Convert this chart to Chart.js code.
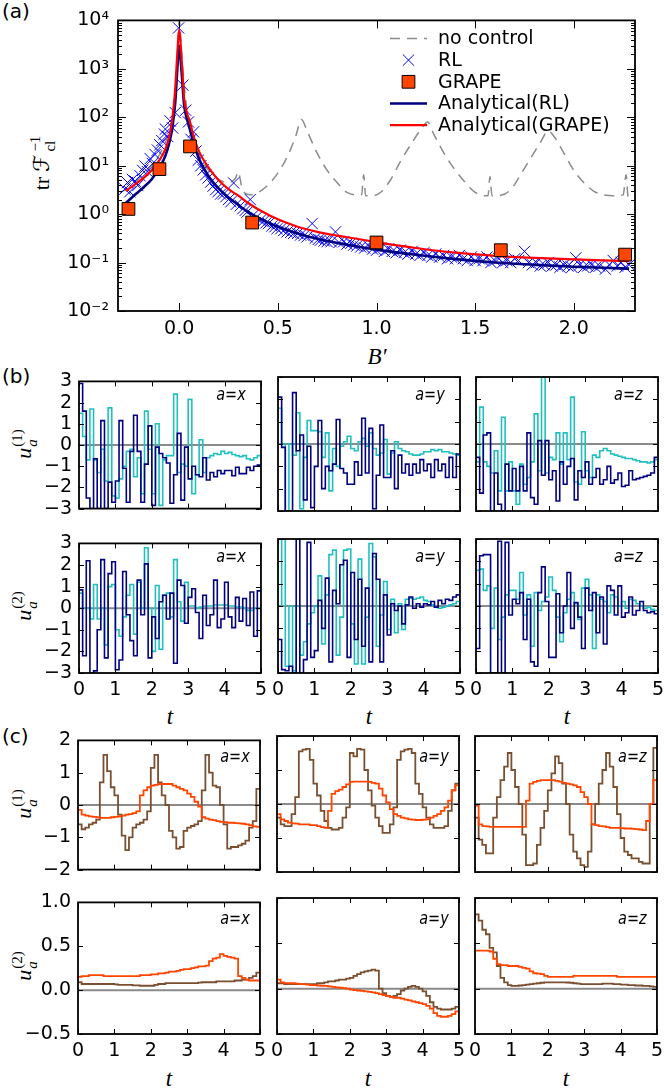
<!DOCTYPE html>
<html>
<head>
<meta charset="utf-8">
<script src="https://cdn.jsdelivr.net/npm/chart.js@4.4.1/dist/chart.umd.min.js"></script>
<style>
  body { margin: 0; background: #fff; }
  #fig { position: relative; width: 664px; height: 1089px; overflow: hidden; font-family: "DejaVu Sans", sans-serif; }
  #fig canvas { position: absolute; }
  .lbl { position: absolute; white-space: nowrap; color: #000; line-height: 1; }
  .ylab { position: absolute; white-space: nowrap; transform: translate(-50%, -50%) rotate(-90deg); font-family: "Liberation Serif", serif; font-size: 22px; line-height: 1; }
  .xlab { position: absolute; white-space: nowrap; transform: translate(-50%, -50%); font-family: "Liberation Serif", serif; font-style: italic; font-size: 23px; line-height: 1; }
  .it { font-style: italic; }
  .ss { display: inline-block; vertical-align: -0.42em; font-size: 0.68em; line-height: 1.0; margin-left: 1px; }
  .ss span { display: block; }
  .scr { display: inline-block; font-family: "DejaVu Sans", "DejaVu Serif", serif; margin: 0 2px 0 5px; }
  .tag { position: absolute; white-space: nowrap; font-size: 17px; line-height: 17px; font-style: italic; transform: scaleX(0.85); transform-origin: right top; }
</style>
</head>
<body>
<div id="fig">
  <div class="lbl" style="left:2px;top:1px;font-size:20px">(a)</div>
  <div class="lbl" style="left:2px;top:366px;font-size:20px">(b)</div>
  <div class="lbl" style="left:2px;top:726px;font-size:20px">(c)</div>

  <div class="ylab" style="left:43px;top:163px">tr<span class="scr">&#8497;</span><span class="ss"><span>&minus;1</span><span>cl</span></span></div>
  <div class="xlab" style="left:377px;top:356px">B&prime;</div>

  <div class="ylab" style="left:25px;top:444px"><span class="it">u</span><span class="ss"><span>(1)</span><span class="it">a</span></span></div>
  <div class="ylab" style="left:25px;top:606px"><span class="it">u</span><span class="ss"><span>(2)</span><span class="it">a</span></span></div>
  <div class="ylab" style="left:25px;top:804px"><span class="it">u</span><span class="ss"><span>(1)</span><span class="it">a</span></span></div>
  <div class="ylab" style="left:25px;top:966px"><span class="it">u</span><span class="ss"><span>(2)</span><span class="it">a</span></span></div>

  <div class="xlab" style="left:170px;top:716px">t</div>
  <div class="xlab" style="left:369px;top:716px">t</div>
  <div class="xlab" style="left:567px;top:716px">t</div>
  <div class="xlab" style="left:169px;top:1078px">t</div>
  <div class="xlab" style="left:368px;top:1078px">t</div>
  <div class="xlab" style="left:566px;top:1078px">t</div>
</div>
<script>
// ---------- panel (a): trF^-1 against B' ----------
const NOCTRL_B = [-0.3, -0.25, -0.2, -0.15, -0.1, -0.07, -0.05, -0.03, -0.015, 0, 0.015, 0.03, 0.045, 0.06, 0.08, 0.1,
  0.15, 0.2, 0.25, 0.285, 0.3, 0.315, 0.33, 0.36, 0.4, 0.45, 0.5, 0.55, 0.59, 0.62, 0.65, 0.7, 0.75, 0.8, 0.85, 0.9,
  0.925, 0.935, 0.945, 0.98, 1.02, 1.07, 1.12, 1.18, 1.23, 1.26, 1.29, 1.35, 1.4, 1.45, 1.5, 1.55, 1.565, 1.575, 1.585,
  1.63, 1.68, 1.73, 1.78, 1.83, 1.87, 1.9, 1.95, 2.0, 2.05, 2.1, 2.15, 2.2, 2.25, 2.265, 2.275, 2.31];
const NOCTRL_F = [2.8, 3.6, 5.5, 9, 17, 30, 50, 120, 500, 10000, 1500, 300, 100, 50, 25, 16,
  8, 5.2, 4.5, 5.5, 7.5, 4, 2.8, 2.5, 2.8, 4, 7, 16, 40, 90, 50, 18, 8, 4.5, 2.8, 2.5,
  2.5, 6.5, 2.4, 2.4, 2.8, 5, 12, 30, 60, 80, 45, 16, 8, 4.5, 2.8, 2.4, 2.4, 6, 2.4,
  2.45, 3.2, 6.5, 14, 30, 52, 40, 18, 8, 4.5, 3.0, 2.5, 2.4, 2.5, 6.5, 2.3, 2.4];

const RL_B = [-0.275, -0.262, -0.25, -0.237, -0.223, -0.21, -0.198, -0.185, -0.173, -0.16, -0.147, -0.135, -0.122, -0.11,
  -0.098, -0.088, -0.075, -0.07, -0.058, -0.046, -0.033, -0.02, -0.003, 0.019, 0.033, 0.047, 0.06, 0.073, 0.085, 0.097,
  0.11, 0.122, 0.135, 0.147, 0.16, 0.172, 0.185, 0.197, 0.21, 0.225, 0.237, 0.25, 0.262, 0.276, 0.29, 0.31, 0.323, 0.335,
  0.344, 0.36, 0.375, 0.39, 0.41, 0.425, 0.44, 0.453, 0.47, 0.485, 0.496, 0.515, 0.53, 0.547, 0.565, 0.58, 0.6, 0.615,
  0.633, 0.648, 0.674, 0.69, 0.705, 0.716, 0.735, 0.75, 0.77, 0.792, 0.81, 0.834, 0.85, 0.87, 0.885, 0.9, 0.92, 0.94,
  0.96, 0.98, 1.0, 1.02, 1.04, 1.06, 1.08, 1.1, 1.12, 1.14, 1.16, 1.18, 1.2, 1.22, 1.24, 1.26, 1.28, 1.3, 1.32, 1.34,
  1.36, 1.38, 1.4, 1.42, 1.44, 1.46, 1.48, 1.5, 1.52, 1.54, 1.56, 1.58, 1.6, 1.62, 1.64, 1.66, 1.68, 1.7, 1.72, 1.75,
  1.77, 1.79, 1.81, 1.83, 1.85, 1.87, 1.89, 1.91, 1.93, 1.95, 1.97, 1.99, 2.01, 2.03, 2.05, 2.07, 2.09, 2.11, 2.13,
  2.16, 2.18, 2.2, 2.22, 2.24, 2.26, 2.28];
const RL_F = [3.3, 4.5, 2.9, 5.2, 4.8, 3.9, 6.2, 8.0, 9.8, 7.5, 14, 11, 17, 21,
  27, 33, 45, 57, 40, 84, 60, 125, 7000, 460, 140, 80, 35, 50, 20, 13,
  10, 8.2, 6.5, 5.6, 4.6, 3.8, 3.2, 2.9, 2.6, 2.6, 2.3, 2.0, 1.8, 4.4, 1.6, 1.5, 1.3, 1.2,
  1.1, 2.0, 0.95, 0.85, 0.74, 0.7, 0.66, 0.64, 0.57, 0.55, 0.5, 0.5, 0.46, 0.43, 0.42, 0.4, 0.4, 0.37,
  0.36, 0.34, 0.64, 0.32, 0.3, 0.29, 0.28, 0.27, 0.27, 0.43, 0.26, 0.27, 0.24, 0.25, 0.23, 0.22, 0.21, 0.2,
  0.22, 0.19, 0.18, 0.2, 0.17, 0.19, 0.17, 0.16, 0.18, 0.16, 0.15, 0.17, 0.15, 0.14, 0.16, 0.14, 0.13, 0.15, 0.13, 0.14,
  0.12, 0.13, 0.12, 0.14, 0.12, 0.11, 0.13, 0.11, 0.12, 0.11, 0.13, 0.1, 0.11, 0.12, 0.1, 0.11, 0.1, 0.12, 0.11, 0.17,
  0.1, 0.09, 0.1, 0.085, 0.09, 0.1, 0.085, 0.09, 0.08, 0.09, 0.085, 0.08, 0.125, 0.09, 0.08, 0.085, 0.09, 0.08, 0.085,
  0.073, 0.09, 0.11, 0.085, 0.1, 0.08, 0.09];

const GRAPE_B = [-0.257, -0.1, 0.055, 0.37, 1.0, 1.63, 2.26];
const GRAPE_F = [1.28, 8.5, 25, 0.67, 0.26, 0.18, 0.146];

const AN_B = [-0.27, -0.22, -0.18, -0.14, -0.1, -0.07, -0.05, -0.035, -0.02, -0.01, 0, 0.012, 0.025, 0.04, 0.055, 0.07,
  0.1, 0.15, 0.2, 0.25, 0.3, 0.35, 0.4, 0.5, 0.6, 0.7, 0.8, 0.9, 1.0, 1.2, 1.4, 1.6, 1.8, 2.0, 2.15, 2.28];
const ANRL_F = [1.7, 2.6, 3.6, 5.2, 9, 16, 30, 60, 200, 900, 3000, 900, 180, 90, 55, 32,
  14, 6, 3.4, 2.2, 1.55, 1.1, 0.85, 0.55, 0.4, 0.31, 0.255, 0.215, 0.185, 0.145, 0.118, 0.1, 0.09, 0.082, 0.078, 0.075];
const ANGR_F = [3.0, 4.2, 5.6, 8, 13, 22, 40, 90, 400, 1900, 6500, 1700, 250, 120, 80, 45,
  20, 9, 5, 3.3, 2.4, 1.7, 1.26, 0.78, 0.55, 0.43, 0.36, 0.31, 0.265, 0.2, 0.16, 0.138, 0.125, 0.116, 0.111, 0.107];

const A_XTICKS = [0, 0.5, 1.0, 1.5, 2.0];
const A_YTICKS = [0.01, 0.1, 1, 10, 100, 1000, 10000];
const A_YMINOR = [0.02, 0.03, 0.04, 0.05, 0.06, 0.07, 0.08, 0.09, 0.2, 0.3, 0.4, 0.5, 0.6, 0.7, 0.8, 0.9,
  2, 3, 4, 5, 6, 7, 8, 9, 20, 30, 40, 50, 60, 70, 80, 90, 200, 300, 400, 500, 600, 700, 800, 900,
  2000, 3000, 4000, 5000, 6000, 7000, 8000, 9000];

// ---------- panels (b), (c): one control value per time step ----------
const T_GRID = [0, 0.1, 0.2, 0.3, 0.4, 0.5, 0.6, 0.7, 0.8, 0.9, 1.0, 1.1, 1.2, 1.3, 1.4, 1.5, 1.6, 1.7, 1.8, 1.9,
  2.0, 2.1, 2.2, 2.3, 2.4, 2.5, 2.6, 2.7, 2.8, 2.9, 3.0, 3.1, 3.2, 3.3, 3.4, 3.5, 3.6, 3.7, 3.8, 3.9,
  4.0, 4.1, 4.2, 4.3, 4.4, 4.5, 4.6, 4.7, 4.8, 4.9, 5.0];

const B1X_NAVY = [2.9, 1.6, -2.5, -3, -0.65, -3, 1.15, -3, -1.75, -2.7, -1.7, 1.15, -1.1, -2.7, -0.3, 1.4, -0.3, -2.7, -0.9, 0.9,
  -2.85, -0.1, -0.4, -0.6, -0.85, -2.75, -1.4, 0.55, -2.6, -0.1, -1.6, -1.0, -1.4, -1.5, -0.6, -1.65, -1.3, -1.5, -1.2, -1.35,
  -1.2, -1.2, -1.45, -1.05, -1.35, -1.35, -1.05, -1.2, -1.0, -0.95];
const B1X_CYAN = [1.5, 0.4, -0.7, 1.7, -0.7, -1.3, -0.2, -1.7, 1.75, -2.4, -2.5, -1.6, -1.0, -0.3, -0.2, -1.5, -0.6, -2.3, 1.6, -0.2,
  -2.3, 1.0, -2.85, -0.7, -0.5, -0.5, 2.4, -1.3, -0.9, -1.0, 2.15, -2.3, -1.4, 0.25, -1.3, -0.6, -0.5, -0.4, -0.45, -0.3,
  -0.4, -0.35, -0.45, -0.5, -0.55, -0.5, -0.65, -0.7, -0.6, -0.5];
const B1Y_NAVY = [2.1, -0.15, -3, -3, 2.3, -0.3, 0.4, -2.5, -0.1, -2.85, -1.0, 1.05, -2.0, -1.0, -1.2, -0.9, 1.1, -1.1, -1.3, -1.8,
  -1.8, -0.8, -1.4, 1.15, -1.3, 0.7, -2.9, -1.4, 0.85, -1.5, -1.5, -0.3, -2.0, -0.5, -1.3, -0.9, -1.4, -0.9, -1.3, -0.7,
  -1.2, -0.9, -1.5, -0.7, -1.2, -0.9, -1.5, -0.6, -1.5, -0.45];
const B1Y_CYAN = [1.6, 0.0, -3, 0.0, -0.5, 1.4, -2.9, -0.6, 1.05, 0.6, 0.6, 0.55, -0.6, 0.5, -2.1, -0.2, -1.0, -0.1, 0.1, 0.35,
  -0.2, -0.3, 0.1, 0.25, -0.1, 0.5, -0.2, -0.5, -0.4, 0.2, -1.35, -0.4, 0.1, -0.2, -0.3, -0.35, -0.45, -0.5, -0.5, -0.45,
  -0.35, -0.35, -0.25, -0.3, -0.25, -0.35, -0.35, -0.4, -0.45, -0.5];
const B1Z_NAVY = [-0.6, -2.2, 0.4, 0.5, -3, -1.3, -2.7, -3, -0.9, -2.1, -1.1, -2.1, -1.0, -2.1, 0.5, -2.4, -2.7, 0.15, -1.4, 0.15,
  -1.6, -1.2, -2.55, -0.8, -1.8, -1.0, -0.65, -2.5, -1.2, -1.5, -0.8, -1.8, -1.5, -1.1, -1.8, -1.6, -1.0, -1.75, -1.6, -1.3,
  -1.9, -1.85, -1.2, -1.6, -1.55, -1.5, -1.45, -1.4, -1.3, -0.6];
const B1Z_CYAN = [-0.8, 1.65, -0.8, -1.0, -1.3, -0.3, -2.1, 1.2, -2.1, -0.8, -2.1, -2.7, -0.9, -1.8, -1.5, -0.8, 1.35, -1.2, 3.0, -1.3,
  -0.6, -0.7, 0.5, -0.9, 0.5, -0.7, 2.1, -1.7, -1.8, 0.55, -1.2, -1.5, -0.5, -0.6, -0.3, -0.2, -0.3, -0.45, -0.5, -0.55,
  -0.6, -0.65, -0.65, -0.7, -0.75, -0.8, -0.8, -0.85, -0.8, -0.7];

const B2X_NAVY = [0.85, -2.2, 2.2, -3, -2.9, -1.0, 2.25, -2.3, 1.6, 2.15, -2.85, -2.4, 1.7, -0.3, -1.5, -2.2, 1.3, -0.3, 2.05, -2.3,
  -0.4, -1.4, 0.3, 0.6, -0.5, 0.7, -2.55, 1.3, 1.05, -0.7, 0.5, 0.9, -0.2, -1.4, 0.6, -0.8, -0.3, 1.3, -0.9, -0.5,
  1.2, -0.4, -0.9, 0.5, -0.6, 0.45, -0.8, 0.75, -1.3, 0.8];
const B2X_CYAN = [0.7, 0.0, 0.0, -0.5, 1.1, -0.5, 0.0, -1.7, 1.0, 1.1, -1.0, -1.3, -0.4, 0.6, 1.1, -1.2, 1.2, 0.0, 2.8, 0.0,
  -2.0, 1.05, -1.9, 0.6, 0.7, -0.4, 2.25, 0.3, -0.6, 1.2, 0.1, 0.1, 0.0, 0.05, 0.1, 0.1, 0.1, 0.15, 0.15, 0.15,
  0.15, 0.1, 0.1, 0.05, 0.05, 0.0, -0.1, -0.1, 0.0, 0.0];
const B2Y_NAVY = [-1.5, -2.85, -2.9, -2.7, -3, 3, -3, -2.4, 2.85, -2.3, -2.0, 0.25, -1.0, 1.25, -2.5, 0.7, 0.1, 1.85, 2.05, -2.3,
  1.5, -1.5, 1.2, -1.8, 0.8, -2.5, 2.35, 1.2, -2.5, 0.5, -1.3, 0.1, -0.2, 0.0, -0.8, 0.05, 0.4, -0.1, 0.1, -0.05,
  0.1, 0.05, 0.2, -0.05, 0.25, 0.1, 0.3, 0.25, 0.4, 0.5];
const B2Y_CYAN = [0.0, 3, -2.7, 0, -2.9, 0, -2.2, -1.6, -0.8, -0.3, 0.0, 1.35, -1.7, 0.5, 2.3, 2.5, -2.2, -0.5, 2.5, 2.55,
  -0.8, -2.6, 2.1, -2.6, -0.5, 2.8, 2.2, -1.8, -0.4, 1.1, -1.05, 0.3, -1.2, 0.1, -1.05, 0.3, 0.35, 0.3, 0.35, 0.4,
  0.25, 0.2, 0.05, -0.05, -0.1, -0.05, 0.0, 0.05, 0.1, 0.2];
const B2Z_NAVY = [-1.9, 2.25, 2.3, 2.3, -3, -3, 2.9, -3, 2.85, -0.4, 0.3, 0.1, 0.6, -1.5, 0.3, -2.5, -2.7, 0.6, 1.75, 0.2,
  -2.3, -2.3, 0.55, -1.2, 0.0, 1.5, -1.0, 0.15, -0.5, -1.9, 0.8, -0.2, 0.6, -1.2, 0.4, -1.7, 0.9, 0.7, -0.4, 0.9,
  -0.5, -0.3, 0.4, -0.4, -0.2, 0.2, -0.2, -0.3, -0.25, -0.35];
const B2Z_CYAN = [1.6, 1.65, 0.7, 0.9, -1.0, 0.8, -1.5, -0.5, 0.5, 0.7, 0.7, 0.3, 1.5, -0.4, 0.5, -1.8, 0.6, -0.2, 0.2, 0.4,
  1.3, 0.7, -0.5, -1.6, -0.3, 0.3, 0.6, 0.1, -0.6, 0.8, 1.2, 0.5, -1.9, 0.5, 0.3, 0.2, -0.3, 0.5, 0.4, 0.0,
  0.2, -0.1, 0.3, 0.25, 0.1, 0.0, -0.1, -0.05, -0.15, -0.2];

const C1X_BROWN = [-0.6, -0.75, -0.7, -0.6, -0.55, -0.45, 0.7, 1.55, 1.05, 0.55, 0.3, -0.3, -0.95, -1.4, -1.0, -0.7, -0.6, -0.55, -0.45, -0.2,
  1.15, 1.55, 0.7, 0.3, 0.0, -0.8, -1.0, -1.35, -1.3, -0.8, -0.7, -0.65, -0.6, -0.5, 0.45, 1.55, 1.0, 0.6, 0.55, 0.0,
  -0.6, -1.35, -1.3, -1.3, -1.25, -1.2, -1.1, -0.7, -0.5, 0.5];
const C1X_ORANGE = [-0.15, -0.3, -0.33, -0.35, -0.37, -0.38, -0.4, -0.4, -0.4, -0.38, -0.37, -0.35, -0.33, -0.3, -0.28, -0.25, -0.2, 0.3, 0.45, 0.55,
  0.6, 0.62, 0.65, 0.65, 0.65, 0.65, 0.6, 0.55, 0.5, 0.45, 0.35, 0.25, 0.1, -0.05, -0.38, -0.42, -0.45, -0.47, -0.5, -0.52,
  -0.53, -0.55, -0.55, -0.56, -0.57, -0.58, -0.6, -0.62, -0.66, -0.68];
const C1Y_BROWN = [-0.4, -0.6, -0.65, -0.65, -0.3, 0.2, 1.55, 1.6, 1.62, 1.3, 0.6, 0.25, -0.2, -0.5, -0.7, -0.75, -0.75, -0.7, -0.4, -0.1,
  1.5, 1.4, 1.62, 1.6, 1.0, 0.4, -0.05, -0.4, -0.65, -0.85, -0.85, -0.6, -0.1, 1.3, 1.55, 1.6, 1.62, 1.5, 0.6, 0.3,
  -0.1, -0.4, -0.6, -0.7, -0.7, -0.7, -0.65, -0.2, 0.4, 0.6];
const C1Y_ORANGE = [-0.3, -0.45, -0.5, -0.55, -0.57, -0.58, -0.6, -0.6, -0.6, -0.62, -0.62, -0.65, -0.68, -0.7, -0.2, 0.3, 0.38, 0.42, 0.5, 0.58,
  0.65, 0.66, 0.66, 0.66, 0.66, 0.65, 0.62, 0.6, 0.45, 0.25, 0.05, -0.15, -0.3, -0.35, -0.4, -0.42, -0.45, -0.46, -0.47, -0.47,
  -0.46, -0.45, -0.4, -0.35, -0.3, -0.2, -0.1, 0.1, 0.4, 0.55];
const C1Z_BROWN = [-0.4, -1.05, -1.2, -1.45, -1.45, -0.4, 0.2, 0.7, 1.1, 1.5, 1.0, 0.5, 0.0, -0.9, -1.8, -1.8, -1.75, -1.2, -0.7, -0.2,
  0.4, 0.9, 1.4, 1.2, 0.6, 0.0, -0.9, -1.4, -1.6, -1.8, -1.85, -1.4, -0.6, 0.0, 0.6, 1.0, 1.5, 1.1, 0.5, -0.3,
  -1.0, -1.4, -1.5, -1.6, -1.6, -1.7, -1.75, -1.75, 0.0, 1.65];
const C1Z_ORANGE = [-0.05, -0.6, -0.65, -0.66, -0.67, -0.67, -0.67, -0.67, -0.67, -0.67, -0.67, -0.67, -0.67, -0.67, 0.1, 0.6, 0.65, 0.68, 0.7, 0.7,
  0.7, 0.7, 0.68, 0.66, 0.62, 0.6, 0.58, 0.55, 0.5, 0.35, 0.2, 0.0, -0.6, -0.62, -0.65, -0.66, -0.68, -0.7, -0.7, -0.7,
  -0.71, -0.72, -0.72, -0.73, -0.74, -0.75, -0.77, -0.5, 0.0, 0.7];

const C2X_BROWN = [0.09, 0.07, 0.07, 0.07, 0.07, 0.07, 0.07, 0.07, 0.07, 0.07, 0.065, 0.06, 0.06, 0.06, 0.06, 0.055, 0.055, 0.05, 0.05, 0.05,
  0.05, 0.06, 0.07, 0.07, 0.08, 0.08, 0.08, 0.08, 0.08, 0.08, 0.08, 0.08, 0.08, 0.085, 0.09, 0.09, 0.09, 0.09, 0.1, 0.1,
  0.1, 0.1, 0.1, 0.11, 0.11, 0.12, 0.12, 0.14, 0.16, 0.2];
const C2X_ORANGE = [0.15, 0.16, 0.16, 0.17, 0.17, 0.17, 0.17, 0.16, 0.16, 0.16, 0.16, 0.16, 0.16, 0.16, 0.16, 0.16, 0.16, 0.17, 0.17, 0.17,
  0.18, 0.18, 0.19, 0.19, 0.2, 0.21, 0.21, 0.22, 0.23, 0.24, 0.24, 0.25, 0.26, 0.27, 0.27, 0.28, 0.33, 0.36, 0.37, 0.41,
  0.39, 0.38, 0.37, 0.36, 0.16, 0.14, 0.12, 0.11, 0.11, 0.11];
const C2Y_BROWN = [0.06, 0.06, 0.05, 0.05, 0.05, 0.05, 0.05, 0.05, 0.05, 0.05, 0.05, 0.06, 0.06, 0.07, 0.08, 0.08, 0.09, 0.1, 0.1, 0.11,
  0.12, 0.14, 0.16, 0.18, 0.19, 0.2, 0.21, 0.2, 0.0, -0.05, -0.08, -0.09, -0.08, -0.06, -0.02, 0.0, 0.02, 0.03, 0.02, 0.0,
  -0.03, -0.08, -0.15, -0.2, -0.22, -0.23, -0.23, -0.23, -0.22, -0.2];
const C2Y_ORANGE = [0.1, 0.07, 0.06, 0.06, 0.06, 0.055, 0.05, 0.05, 0.045, 0.04, 0.04, 0.035, 0.03, 0.03, 0.025, 0.02, 0.015, 0.01, 0.005, 0.0,
  -0.01, -0.015, -0.02, -0.025, -0.03, -0.035, -0.04, -0.05, -0.06, -0.07, -0.08, -0.09, -0.1, -0.1, -0.11, -0.12, -0.13, -0.14, -0.15, -0.16,
  -0.17, -0.19, -0.22, -0.27, -0.3, -0.31, -0.31, -0.3, -0.28, -0.25];
const C2Z_BROWN = [0.82, 0.75, 0.65, 0.6, 0.45, 0.4, 0.25, 0.12, 0.07, 0.04, 0.03, 0.03, 0.035, 0.04, 0.045, 0.05, 0.055, 0.06, 0.065, 0.07,
  0.07, 0.07, 0.07, 0.07, 0.07, 0.068, 0.065, 0.06, 0.055, 0.05, 0.05, 0.05, 0.05, 0.05, 0.05, 0.055, 0.055, 0.055, 0.05, 0.05,
  0.045, 0.045, 0.04, 0.04, 0.035, 0.035, 0.03, 0.03, 0.025, 0.02];
const C2Z_ORANGE = [0.42, 0.42, 0.42, 0.42, 0.41, 0.33, 0.27, 0.26, 0.26, 0.25, 0.25, 0.25, 0.24, 0.23, 0.22, 0.19, 0.17, 0.165, 0.16, 0.14,
  0.13, 0.13, 0.13, 0.13, 0.13, 0.13, 0.13, 0.14, 0.14, 0.14, 0.14, 0.14, 0.14, 0.14, 0.14, 0.14, 0.14, 0.14, 0.14, 0.13,
  0.13, 0.13, 0.13, 0.13, 0.13, 0.13, 0.13, 0.13, 0.13, 0.13];

const T_TICKS = [0, 1, 2, 3, 4, 5];
const B_YTICKS = [-3, -2, -1, 0, 1, 2, 3];
const C1_YTICKS = [-2, -1, 0, 1, 2];
const C2_YTICKS = [-0.5, 0.0, 0.5, 1.0];
const ZERO_T = [0, 5];
const ZERO_U = [0, 0];
const AXIS_TAGS = ['a=x', 'a=y', 'a=z'];

const NAVY = '#000080';
const CYAN = '#20c0c0';
const BROWN = '#7a4f30';
const ORANGE = '#ff4500';

Chart.defaults.font.family = '"DejaVu Sans", sans-serif';
Chart.defaults.font.size = 19;
Chart.defaults.color = '#000';

const fig = document.getElementById('fig');

function pts(xs, ys) {
  return xs.map((x, i) => ({x: x, y: ys[i]}));
}
function steps(vals) {
  return T_GRID.map((t, i) => ({x: t, y: vals[Math.min(i, vals.length - 1)]}));
}
function minus(s) {
  return String(s).replace('-', '\u2212');
}
const SUP = {'-': '\u207b', '0': '\u2070', '1': '\u00b9', '2': '\u00b2', '3': '\u00b3', '4': '\u2074'};
function pow10(v) {
  const e = String(Math.round(Math.log10(v)));
  return '10' + e.split('').map(c => SUP[c]).join('');
}

// frame and inward tick marks, like the original axes
const framePlugin = {
  id: 'frame',
  afterDatasetsDraw(chart, args, o) {
    const ctx = chart.ctx, a = chart.chartArea;
    const xs = chart.scales.x, ys = chart.scales.y;
    ctx.save();
    ctx.strokeStyle = '#000';
    ctx.lineWidth = 1;
    ctx.beginPath();
    o.xTicks.forEach(v => {
      const p = Math.round(xs.getPixelForValue(v)) + 0.5;
      ctx.moveTo(p, a.bottom); ctx.lineTo(p, a.bottom - o.len);
      ctx.moveTo(p, a.top); ctx.lineTo(p, a.top + o.len);
    });
    o.yTicks.forEach(v => {
      const p = Math.round(ys.getPixelForValue(v)) + 0.5;
      ctx.moveTo(a.left, p); ctx.lineTo(a.left + o.len, p);
      ctx.moveTo(a.right, p); ctx.lineTo(a.right - o.len, p);
    });
    (o.yMinor || []).forEach(v => {
      const p = Math.round(ys.getPixelForValue(v)) + 0.5;
      ctx.moveTo(a.left, p); ctx.lineTo(a.left + o.len / 2, p);
      ctx.moveTo(a.right, p); ctx.lineTo(a.right - o.len / 2, p);
    });
    ctx.stroke();
    ctx.lineWidth = o.width;
    ctx.strokeRect(a.left, a.top, a.width, a.height);
    ctx.restore();
  }
};

// legend inside panel (a), top right
const innerLegend = {
  id: 'innerLegend',
  afterDraw(chart) {
    const ctx = chart.ctx, a = chart.chartArea;
    const x0 = a.right - 245, x1 = a.right - 208, tx = a.right - 197, cx = (x0 + x1) / 2;
    ctx.save();
    ctx.font = '19px "DejaVu Sans"';
    ctx.textBaseline = 'middle';
    chart.data.datasets.forEach((ds, row) => {
      const y = a.top + 18 + row * 21.7;
      if (ds.showLine === false) {
        ctx.lineWidth = 1;
        ctx.strokeStyle = ds.pointBorderColor;
        ctx.fillStyle = ds.pointBackgroundColor || 'transparent';
        const s = ds.pointRadius * Math.SQRT1_2;
        ctx.beginPath();
        if (ds.pointStyle === 'rect') {
          ctx.rect(cx - s, y - s, 2 * s, 2 * s);
          ctx.fill();
        } else {
          ctx.moveTo(cx - s, y - s); ctx.lineTo(cx + s, y + s);
          ctx.moveTo(cx + s, y - s); ctx.lineTo(cx - s, y + s);
        }
        ctx.stroke();
      } else {
        ctx.strokeStyle = ds.borderColor;
        ctx.lineWidth = ds.borderWidth;
        ctx.setLineDash(ds.borderDash || []);
        ctx.beginPath();
        ctx.moveTo(x0, y); ctx.lineTo(x1, y);
        ctx.stroke();
        ctx.setLineDash([]);
      }
      ctx.fillStyle = '#000';
      ctx.fillText(ds.label, tx, y + 1);
    });
    ctx.restore();
  }
};

function makeChart(box, pad, datasets, ax) {
  const w = box.w + pad.l + pad.r, h = box.h + pad.t + pad.b;
  const cv = document.createElement('canvas');
  cv.width = w; cv.height = h;
  cv.style.left = (box.l - pad.l) + 'px';
  cv.style.top = (box.t - pad.t) + 'px';
  cv.style.width = w + 'px';
  cv.style.height = h + 'px';
  fig.appendChild(cv);
  return new Chart(cv, {
    type: 'line',
    data: {datasets: datasets},
    options: {
      responsive: false,
      animation: false,
      events: [],
      layout: {padding: {top: pad.t, right: pad.r, left: 0, bottom: 0}},
      elements: {point: {radius: 0}},
      scales: {
        x: {
          type: 'linear', min: ax.xmin, max: ax.xmax,
          grid: {display: false, drawTicks: false}, border: {display: false},
          afterBuildTicks: s => { s.ticks = ax.xticks.map(v => ({value: v})); },
          afterFit: s => { s.height = pad.b; },
          ticks: {display: ax.xlab, padding: ax.xpad || 6, autoSkip: false, maxRotation: 0, callback: ax.xfmt}
        },
        y: {
          type: ax.ylog ? 'logarithmic' : 'linear', min: ax.ymin, max: ax.ymax,
          grid: {display: false, drawTicks: false}, border: {display: false},
          afterBuildTicks: s => { s.ticks = ax.yticks.map(v => ({value: v})); },
          afterFit: s => { s.width = pad.l; },
          ticks: {display: ax.ylab, padding: ax.ypad || 7, autoSkip: false, callback: ax.yfmt}
        }
      },
      plugins: {
        legend: {display: false},
        tooltip: {enabled: false},
        frame: {xTicks: ax.xticks, yTicks: ax.yticks, yMinor: ax.yminor, len: ax.tick || 5, width: 1.8}
      }
    },
    plugins: ax.legend ? [framePlugin, innerLegend] : [framePlugin]
  });
}

// ---------- panel (a) ----------
makeChart({l: 118, t: 14, w: 517, h: 297}, {l: 118, r: 24, t: 14, b: 30}, [
  {label: 'no control', data: pts(NOCTRL_B, NOCTRL_F), borderColor: '#8c8c8c', borderWidth: 1.5, borderDash: [10, 7],
   cubicInterpolationMode: 'monotone', order: 5},
  {label: 'RL', data: pts(RL_B, RL_F), showLine: false, pointStyle: 'crossRot', pointRadius: 8,
   pointBorderColor: '#0000ff', pointBorderWidth: 1, borderColor: '#0000ff', order: 4},
  {label: 'GRAPE', data: pts(GRAPE_B, GRAPE_F), showLine: false, pointStyle: 'rect', pointRadius: 9,
   pointBackgroundColor: ORANGE, pointBorderColor: '#000', pointBorderWidth: 1, order: 1},
  {label: 'Analytical(RL)', data: pts(AN_B, ANRL_F), borderColor: NAVY, borderWidth: 2.6,
   cubicInterpolationMode: 'monotone', order: 3},
  {label: 'Analytical(GRAPE)', data: pts(AN_B, ANGR_F), borderColor: '#ff0000', borderWidth: 2.2,
   cubicInterpolationMode: 'monotone', order: 2}
], {
  xmin: -0.31, xmax: 2.31, ymin: 0.01, ymax: 10000, ylog: true,
  xticks: A_XTICKS, yticks: A_YTICKS, yminor: A_YMINOR, tick: 8,
  xlab: true, ylab: true, xpad: 7, ypad: 9, legend: true,
  xfmt: v => v.toFixed(1), yfmt: v => pow10(v)
});

// ---------- panels (b) and (c) ----------
const ROWS = [
  {t: 377, h: 134, cols: [79, 278, 476], yticks: B_YTICKS, ymin: -3, ymax: 3, xlab: false, yfmt: v => minus(v),
   colors: [CYAN, NAVY], width: 1.6, tagTop: 9, tagIn: 15,
   series: [[B1X_CYAN, B1X_NAVY], [B1Y_CYAN, B1Y_NAVY], [B1Z_CYAN, B1Z_NAVY]]},
  {t: 539, h: 134, cols: [79, 278, 476], yticks: B_YTICKS, ymin: -3, ymax: 3, xlab: true, yfmt: v => minus(v),
   colors: [CYAN, NAVY], width: 1.6, tagTop: 9, tagIn: 15,
   series: [[B2X_CYAN, B2X_NAVY], [B2Y_CYAN, B2Y_NAVY], [B2Z_CYAN, B2Z_NAVY]]},
  {t: 736, h: 136, cols: [78, 277, 475], yticks: C1_YTICKS, ymin: -2, ymax: 2, xlab: false, yfmt: v => minus(v),
   colors: [BROWN, ORANGE], width: 1.8, tagTop: 12, tagIn: 10,
   series: [[C1X_BROWN, C1X_ORANGE], [C1Y_BROWN, C1Y_ORANGE], [C1Z_BROWN, C1Z_ORANGE]]},
  {t: 898, h: 136, cols: [78, 277, 475], yticks: C2_YTICKS, ymin: -0.5, ymax: 1.0, xlab: true, yfmt: v => minus(v.toFixed(1)),
   colors: [BROWN, ORANGE], width: 1.8, tagTop: 12, tagIn: 10,
   series: [[C2X_BROWN, C2X_ORANGE], [C2Y_BROWN, C2Y_ORANGE], [C2Z_BROWN, C2Z_ORANGE]]}
];

ROWS.forEach(row => {
  row.cols.forEach((left, c) => {
    const box = {l: left, t: row.t, w: 182, h: row.h};
    const pad = {l: c === 0 ? 70 : 14, r: 12, t: 14, b: row.xlab ? 32 : 16};
    const pair = row.series[c];
    makeChart(box, pad, [
      {data: pts(ZERO_T, ZERO_U), borderColor: '#8a8a8a', borderWidth: 2, order: 3},
      {data: steps(pair[0]), borderColor: row.colors[0], borderWidth: row.width, stepped: 'before', order: 2},
      {data: steps(pair[1]), borderColor: row.colors[1], borderWidth: row.width, stepped: 'before', order: 1}
    ], {
      xmin: 0, xmax: 5, ymin: row.ymin, ymax: row.ymax,
      xticks: T_TICKS, yticks: row.yticks, xlab: row.xlab, ylab: c === 0,
      xfmt: v => String(v), yfmt: row.yfmt
    });
    const tag = document.createElement('div');
    tag.className = 'tag';
    tag.textContent = AXIS_TAGS[c];
    tag.style.right = (664 - (left + 182 - row.tagIn)) + 'px';
    tag.style.top = (row.t + row.tagTop) + 'px';
    fig.appendChild(tag);
  });
});
</script>
</body>
</html>
